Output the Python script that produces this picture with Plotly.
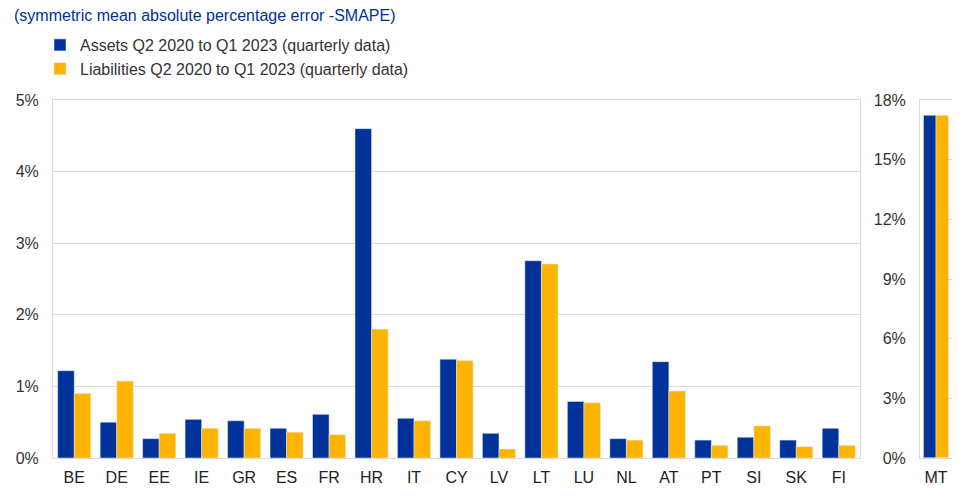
import plotly.graph_objects as go

countries = ["BE", "DE", "EE", "IE", "GR", "ES", "FR", "HR", "IT", "CY",
             "LV", "LT", "LU", "NL", "AT", "PT", "SI", "SK", "FI"]
assets = [1.22, 0.50, 0.27, 0.54, 0.52, 0.415, 0.61, 4.60, 0.555, 1.38,
          0.345, 2.755, 0.79, 0.27, 1.345, 0.25, 0.29, 0.25, 0.415]
liabilities = [0.90, 1.075, 0.345, 0.415, 0.415, 0.36, 0.325, 1.80, 0.52, 1.36,
               0.125, 2.71, 0.77, 0.25, 0.935, 0.177, 0.447, 0.158, 0.177]
mt_label = ["MT"]
mt_assets = [17.23]
mt_liabilities = [17.23]

left_ticks = [0, 1, 2, 3, 4, 5]
right_ticks = [0, 3, 6, 9, 12, 15, 18]

BLUE = "#003299"
YELLOW = "#FFB400"
GRID = "#D9D9D9"
FONT = "Liberation Sans, Arial, sans-serif"
FS = 16

fig = go.Figure()
fig.add_trace(go.Bar(x=countries, y=[v / 100 for v in assets], name="Assets Q2 2020 to Q1 2023 (quarterly data)",
                     marker_color=BLUE, xaxis="x", yaxis="y"))
fig.add_trace(go.Bar(x=countries, y=[v / 100 for v in liabilities], name="Liabilities Q2 2020 to Q1 2023 (quarterly data)",
                     marker_color=YELLOW, xaxis="x", yaxis="y"))
fig.add_trace(go.Bar(x=mt_label, y=[v / 100 for v in mt_assets], showlegend=False,
                     marker_color=BLUE, xaxis="x2", yaxis="y2"))
fig.add_trace(go.Bar(x=mt_label, y=[v / 100 for v in mt_liabilities], showlegend=False,
                     marker_color=YELLOW, xaxis="x2", yaxis="y2"))
# invisible trace for right-side tick marks of MT panel
fig.add_trace(go.Bar(x=mt_label, y=[0], showlegend=False, hoverinfo="skip",
                     marker_color="rgba(0,0,0,0)", xaxis="x2", yaxis="y3"))

# page has an 8px body margin; work in figure coordinates
L, T, R, B = 45, 92, 944, 450
W_PLOT = R - L
H_PLOT = B - T
split = (852 - L) / W_PLOT
start2 = (912 - L) / W_PLOT

fig.update_layout(
    width=960, height=492,
    margin=dict(l=L, r=960 - R, t=T, b=492 - B, autoexpand=False),
    plot_bgcolor="white", paper_bgcolor="white",
    font=dict(family=FONT, size=FS, color="#333333"),
    barmode="group", bargap=0.22, bargroupgap=0,
    legend=dict(x=(32 - L) / W_PLOT, xanchor="left", y=1 + (T - 20) / H_PLOT, yanchor="top",
                orientation="v", font=dict(family=FONT, size=FS, color="#333333"),
                itemwidth=30, tracegroupgap=0, bgcolor="rgba(0,0,0,0)"),
    xaxis=dict(domain=[0, split], showline=True, linecolor=GRID, mirror=True,
               ticks="", ticklabelstandoff=5,
               tickfont=dict(size=FS, color="#222222"), fixedrange=True),
    yaxis=dict(range=[0, 0.05], tickvals=[t / 100 for t in left_ticks],
               tickformat=".0%", showgrid=True, gridcolor=GRID, gridwidth=1,
               showline=True, linecolor=GRID, mirror=True, zeroline=False,
               ticklabelstandoff=10, tickfont=dict(size=FS, color="#333333")),
    xaxis2=dict(domain=[start2, 1], anchor="y2", showline=True, linecolor=GRID,
                mirror=True, ticks="", ticklabelstandoff=5,
                tickfont=dict(size=FS, color="#222222")),
    yaxis2=dict(range=[0, 0.18], tickvals=[t / 100 for t in right_ticks],
                tickformat=".0%", anchor="x2", side="left", showgrid=False,
                showline=True, linecolor=GRID, zeroline=False,
                ticklabelstandoff=10, tickfont=dict(size=FS, color="#333333")),
    yaxis3=dict(range=[0, 0.18], tickvals=[t / 100 for t in right_ticks],
                overlaying="y2", anchor="x2", side="right", showgrid=False,
                showticklabels=False, ticks="inside", ticklen=4, tickcolor=GRID,
                showline=False, zeroline=False),
    annotations=[dict(text="(symmetric mean absolute percentage error -SMAPE)",
                      xref="paper", yref="paper", x=(4 - L) / W_PLOT, xanchor="left",
                      y=1 + (T - 7) / H_PLOT, yanchor="middle", showarrow=False,
                      font=dict(family=FONT, size=FS, color=BLUE))],
)

fig.write_html("out.html")
